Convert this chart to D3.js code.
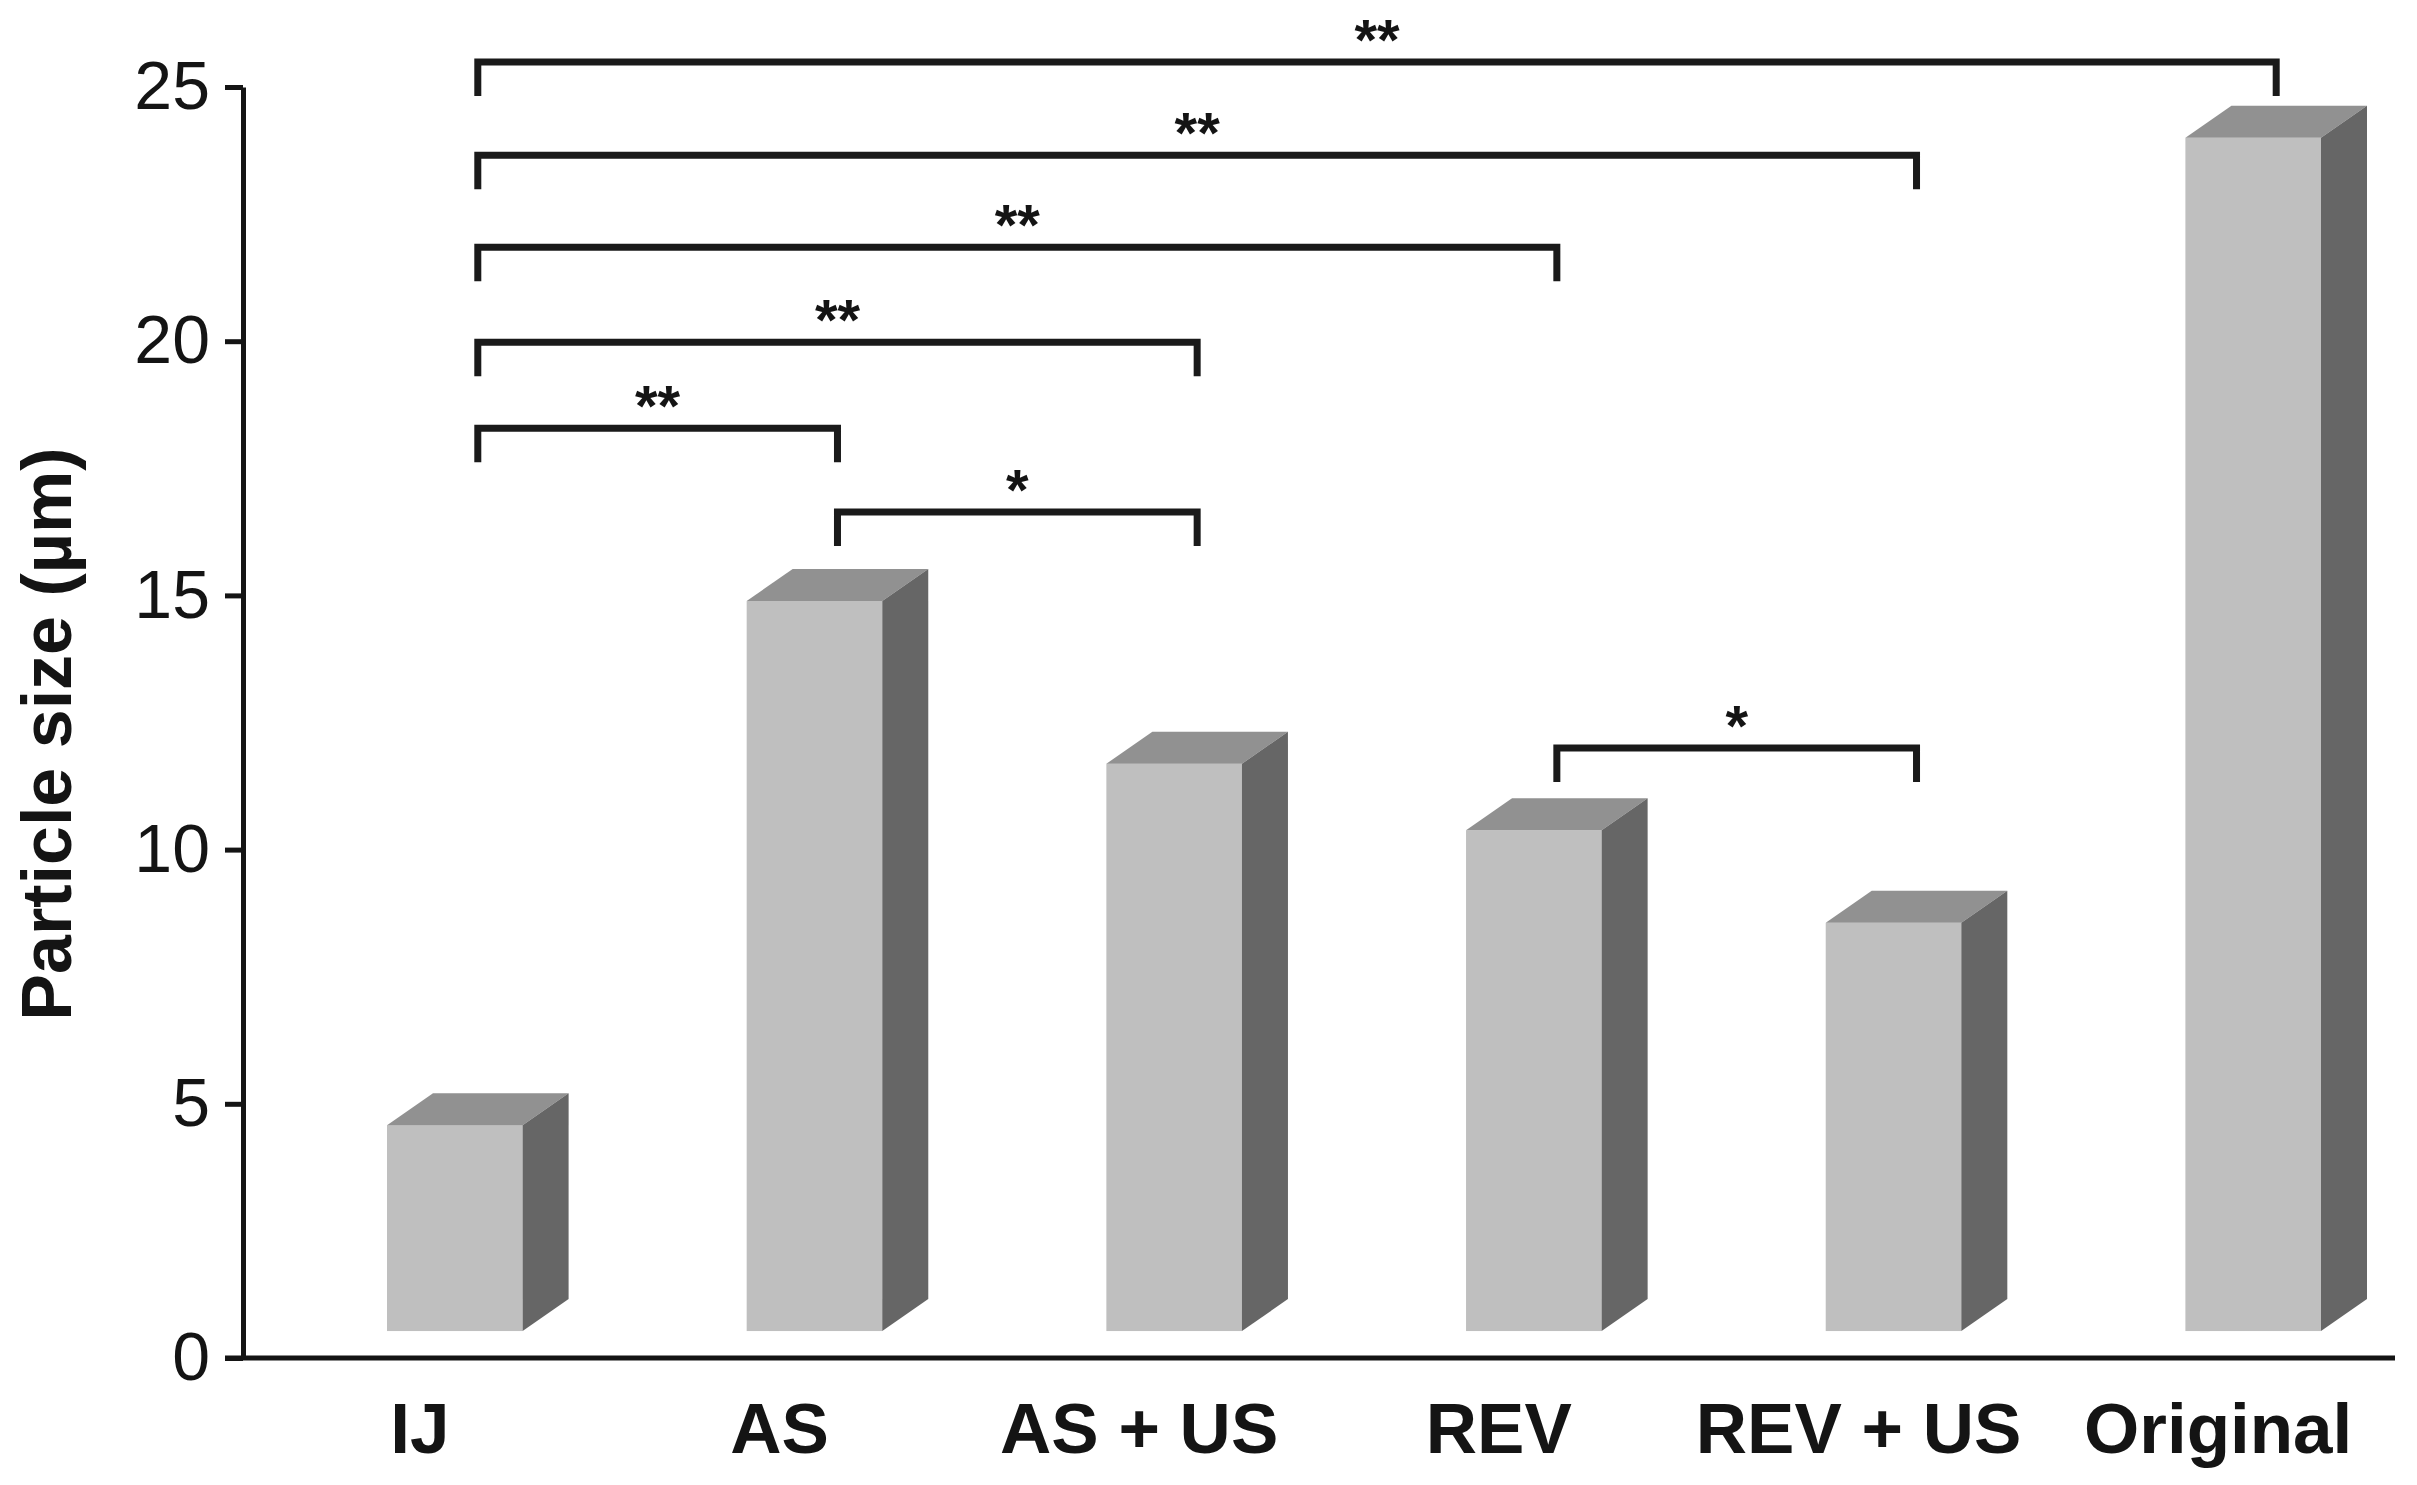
<!DOCTYPE html>
<html>
<head>
<meta charset="utf-8">
<script src="https://cdn.jsdelivr.net/npm/d3@7"></script>
<style>
  body { margin: 0; background: #fff; }
  svg text { font-family: "Liberation Sans", Arial, sans-serif; fill: #141414; }
</style>
</head>
<body>
<div id="chart"></div>
<script>
// values
var categories = ["IJ", "AS", "AS + US", "REV", "REV + US", "Original"];
var sizes = [4.58, 14.89, 11.69, 10.38, 8.56, 24.0];
var yTicks = [0, 5, 10, 15, 20, 25];

// significance brackets: from, to, height (µm), label
var bracketFrom = ["IJ", "IJ", "IJ", "IJ", "IJ", "AS", "REV"];
var bracketTo = ["Original", "REV + US", "REV", "AS + US", "AS", "AS + US", "REV + US"];
var bracketLevel = [25.49, 23.66, 21.85, 19.98, 18.29, 16.64, 12.0];
var bracketLabel = ["**", "**", "**", "**", "**", "*", "*"];

var W = 2417, H = 1485;
var base = 0.53;          // bars float slightly above the axis
var depthX = 46, depthY = 32;

var svg = d3.select("#chart").append("svg")
    .attr("width", W)
    .attr("height", H);

var y = d3.scaleLinear().domain([0, 25]).range([1358, 87]);
var x = d3.scaleBand()
    .domain(categories)
    .range([387, 2321])
    .paddingInner(0.623)
    .paddingOuter(0)
    .align(0);
var bw = x.bandwidth();

//bars, drawn as front face + top + side
var bars = svg.append("g").selectAll("g")
    .data(categories)
    .enter().append("g");

bars.append("rect")
    .attr("x", function(d){ return x(d); })
    .attr("y", function(d, i){ return y(sizes[i]); })
    .attr("width", bw)
    .attr("height", function(d, i){ return y(base) - y(sizes[i]); })
    .attr("fill", "#bfbfbf");

bars.append("path")
    .attr("fill", "#919191")
    .attr("d", function(d, i){
        var x0 = x(d), t = y(sizes[i]);
        return "M" + x0 + "," + t + "L" + (x0 + depthX) + "," + (t - depthY) +
               "L" + (x0 + bw + depthX) + "," + (t - depthY) + "L" + (x0 + bw) + "," + t + "Z";
    });

bars.append("path")
    .attr("fill", "#666666")
    .attr("d", function(d, i){
        var x1 = x(d) + bw, t = y(sizes[i]), b = y(base);
        return "M" + x1 + "," + t + "L" + (x1 + depthX) + "," + (t - depthY) +
               "L" + (x1 + depthX) + "," + (b - depthY) + "L" + x1 + "," + b + "Z";
    });

//y axis
var yAxis = svg.append("g")
    .attr("transform", "translate(243,0)")
    .call(d3.axisLeft(y).tickValues(yTicks).tickSize(18).tickSizeOuter(0).tickPadding(15));
yAxis.select(".domain").attr("stroke", "#141414").attr("stroke-width", 5);
yAxis.selectAll(".tick line").attr("stroke", "#141414").attr("stroke-width", 5);
yAxis.selectAll(".tick text")
    .attr("font-size", 68)
    .attr("font-family", "Liberation Sans, Arial, sans-serif")
    .attr("fill", "#141414");

//x axis line
svg.append("line")
    .attr("x1", 225).attr("x2", 2395)
    .attr("y1", y(0)).attr("y2", y(0))
    .attr("stroke", "#141414")
    .attr("stroke-width", 5);

//category labels
var xAxis = svg.append("g")
    .attr("transform", "translate(0," + y(0) + ")")
    .call(d3.axisBottom(x).tickSize(0).tickPadding(0));
xAxis.select(".domain").remove();
xAxis.selectAll(".tick text")
    .attr("dx", -35)
    .attr("dy", 0)
    .attr("y", 95)
    .attr("font-size", 71)
    .attr("font-weight", "bold")
    .attr("font-family", "Liberation Sans, Arial, sans-serif")
    .attr("fill", "#141414");

//y title
svg.append("text")
    .attr("transform", "translate(71," + 734 + ") rotate(-90)")
    .attr("text-anchor", "middle")
    .attr("font-size", 70)
    .attr("font-weight", "bold")
    .text("Particle size (µm)");

//significance brackets
function mid(d){ return x(d) + (bw + depthX) / 2; }
var drop = 34;

var brackets = svg.append("g").selectAll("g")
    .data(bracketLevel)
    .enter().append("g");

brackets.append("path")
    .attr("fill", "none")
    .attr("stroke", "#1a1a1a")
    .attr("stroke-width", 7)
    .attr("stroke-linejoin", "miter")
    .attr("d", function(v, i){
        var a = mid(bracketFrom[i]), b = mid(bracketTo[i]), yy = y(v);
        return "M" + a + "," + (yy + drop) + "V" + yy + "H" + b + "V" + (yy + drop);
    });

brackets.append("text")
    .attr("x", function(v, i){ return (mid(bracketFrom[i]) + mid(bracketTo[i])) / 2; })
    .attr("y", function(v){ return y(v) - 2; })
    .attr("text-anchor", "middle")
    .attr("font-size", 58)
    .attr("font-weight", "bold")
    .text(function(v, i){ return bracketLabel[i]; });
</script>
</body>
</html>
